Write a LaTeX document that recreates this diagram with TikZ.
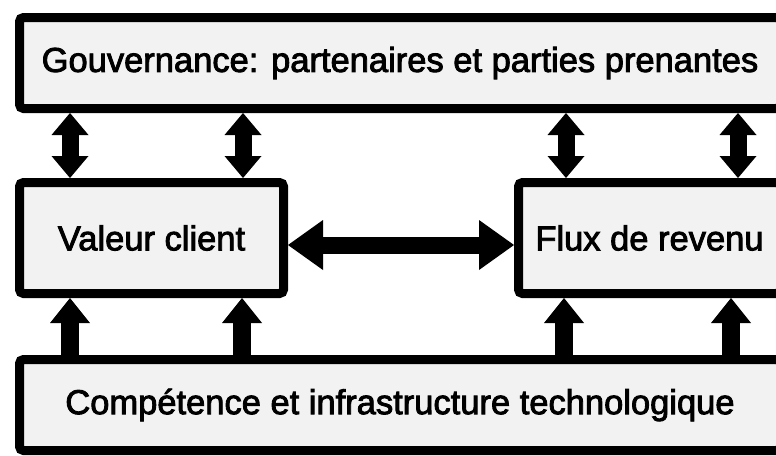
\documentclass[tikz,border=0pt]{standalone}
\usepackage{fontspec}
\setmainfont{Liberation Sans}[FakeBold=2.5]
\usetikzlibrary{arrows.meta}
\definecolor{boxgray}{HTML}{F2F2F2}

\begin{document}
\begin{tikzpicture}[x=1pt,y=-1pt,
  bloc/.style={draw, line width=9pt, fill=boxgray, rounded corners=4pt,
    inner sep=0pt, font=\fontsize{34.5}{41}\selectfont},
  doublearrow/.style={line width=17pt,
    {Triangle[width=37pt,length=22pt,line width=0pt]}-{Triangle[width=37pt,length=22pt,line width=0pt]}},
  uparrow/.style={line width=18pt, -{Triangle[width=40pt,length=25pt,line width=0pt]}},
  sidearrow/.style={line width=17pt,
    {Triangle[width=50pt,length=35pt,line width=0pt]}-{Triangle[width=50pt,length=35pt,line width=0pt]}}]
  \clip (0,0) rectangle (776,455);

  \node[bloc, minimum width=761pt, minimum height=91pt](Gov) at (400,63)
    {Gouvernance: partenaires et parties prenantes};
  \node[bloc, minimum width=264pt, minimum height=111pt](Val) at (151.5,238)
    {Valeur client};
  \node[bloc, minimum width=262pt, minimum height=111pt](Flux) at (649.5,238)
    {Flux de revenu};
  \node[bloc, minimum width=761pt, minimum height=91pt](Comp) at (400,405)
    {Compétence et infrastructure technologique};

  % gouvernance <-> valeur / flux
  \foreach \x in {70,243}
    \draw[doublearrow] (Gov.south -| \x,0) -- (Val.north -| \x,0);
  \foreach \x in {566,738}
    \draw[doublearrow] (Gov.south -| \x,0) -- (Flux.north -| \x,0);

  % competence -> valeur / flux
  \foreach \x in {70,242}
    \draw[uparrow] (Comp.north -| \x,0) -- (Val.south -| \x,0);
  \foreach \x in {564,731}
    \draw[uparrow] (Comp.north -| \x,0) -- (Flux.south -| \x,0);

  \draw[sidearrow] (Val.east |- 0,245) -- (Flux.west |- 0,245);
\end{tikzpicture}
\end{document}
